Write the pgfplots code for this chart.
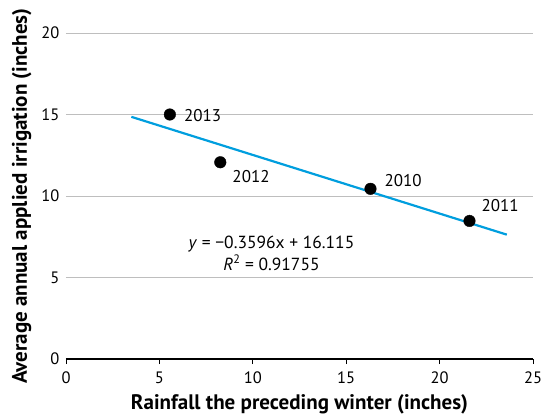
\documentclass[border=0pt]{standalone}
\usepackage{pgfplots}
\usepackage{pgfplotstable}
\usepackage{fontspec}
\pgfplotsset{compat=1.18}
\setmainfont{PT Sans}
\definecolor{trend}{RGB}{0,158,222}
\definecolor{gridgray}{RGB}{190,190,190}

\pgfplotstableread{
x     y      year  dx  dy
5.56  15.00  2013  14  -6.5
8.26  12.07  2012  12  -20
16.30 10.44  2010  14  2
21.60 8.47   2011  12  9
}\points

\begin{document}
\begin{tikzpicture}
\path[use as bounding box] (-66pt,-57pt) rectangle (475pt,359pt);
\begin{axis}[
  scale only axis,
  width=467pt, height=326pt,
  xmin=0, xmax=25, ymin=0, ymax=20,
  xtick={0,5,10,15,20,25},
  ytick={0,5,10,15,20},
  axis lines=left,
  axis line style={-},
  x axis line style={line width=2.6pt},
  y axis line style={draw=none},
  ytick style={draw=none},
  xtick style={black, line width=0.8pt},
  tick align=outside,
  major tick length=5pt,
  ymajorgrids=true,
  grid style={gridgray, line width=0.8pt},
  /pgf/number format/assume math mode=true,
  tick label style={font=\fontsize{16.5}{19}\selectfont},
  yticklabel style={xshift=2pt},
  xticklabel style={yshift=-4pt},
  xlabel={Rainfall the preceding winter (inches)},
  ylabel={Average annual applied irrigation (inches)},
  every axis x label/.style={at={(axis description cs:0.5,-0.1534)}, anchor=base,
    font=\bfseries\fontsize{21}{24}\selectfont},
  every axis y label/.style={at={(axis description cs:-0.0837,0.5)}, rotate=90, anchor=base,
    font=\bfseries\fontsize{21}{24}\selectfont},
  clip=false,
]
\addplot[trend, line width=2.2pt] coordinates {(3.5,14.857) (23.6,7.628)};
\addplot[
  only marks, mark=*, mark size=5.8pt, black,
  visualization depends on={\thisrow{dx}\as\dx},
  visualization depends on={\thisrow{dy}\as\dy},
  point meta=explicit symbolic,
  nodes near coords,
  nodes near coords style={anchor=base west, inner sep=0pt, xshift=\dx pt, yshift=\dy pt, font=\fontsize{17}{20}\selectfont, text=black},
] table[x=x, y=y, meta=year] {\points};
\node[align=center, font=\fontsize{17.5}{22}\selectfont] at (axis cs:11,6.5)
  {\textit{y} = −0.3596x + 16.115\\\textit{R}\textsuperscript{2} = 0.91755};
\end{axis}
\end{tikzpicture}
\end{document}
